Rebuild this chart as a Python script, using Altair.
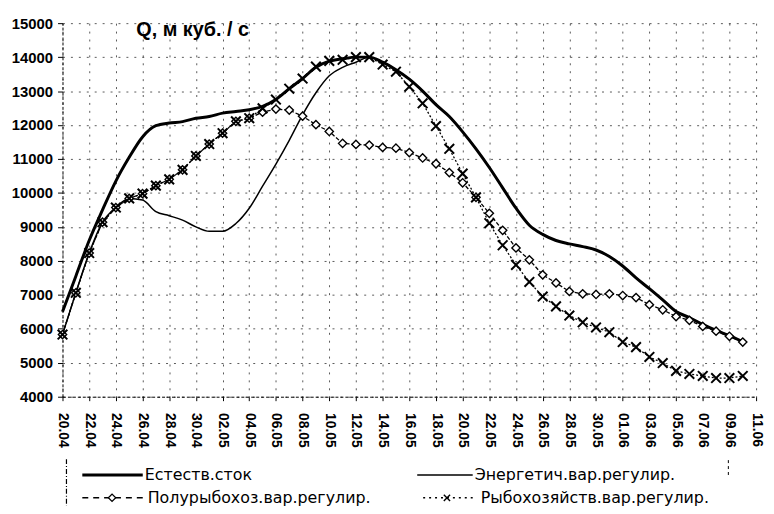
import json
import altair as alt
import pandas as pd

# ---------------- data ----------------
tick_labels = ["20.04", "22.04", "24.04", "26.04", "28.04", "30.04", "02.05", "04.05",
               "06.05", "08.05", "10.05", "12.05", "14.05", "16.05", "18.05", "20.05",
               "22.05", "24.05", "26.05", "28.05", "30.05", "01.06", "03.06", "05.06",
               "07.06", "09.06", "11.06"]

series_names = ["Естеств.сток", "Энергетич.вар.регулир.",
                "Полурыбохоз.вар.регулир.", "Рыбохозяйств.вар.регулир."]

# daily values, 20.04 ... 10.06
natural = [6500, 7550, 8600, 9500, 10350, 11050, 11650, 11980, 12060, 12100,
           12200, 12250, 12350, 12400, 12450, 12550, 12750, 13070, 13370, 13700,
           13880, 13950, 14000, 14000, 13850, 13630, 13350, 13000, 12600, 12250,
           11800, 11300, 10750, 10150, 9550, 9050, 8780, 8600, 8500, 8420,
           8320, 8130, 7850, 7500, 7180, 6850, 6510, 6330, 6130, 5950,
           5800, 5620]

energy = [5830, 7060, 8230, 9140, 9570, 9840, 9790, 9450, 9330, 9200,
          9000, 8870, 8870, 9100, 9550, 10200, 10850, 11550, 12300, 12950,
          13450, 13700, 13850, 14000, 13850, 13630, 13350, 13000, 12600, 12250,
          11800, 11300, 10750, 10150, 9550, 9050, 8780, 8600, 8500, 8420,
          8320, 8130, 7850, 7500, 7180, 6850, 6510, 6330, 6130, 5950,
          5800, 5620]

semi = [5830, 7060, 8230, 9140, 9570, 9840, 9980, 10215, 10400, 10680,
        11090, 11440, 11760, 12110, 12200, 12380, 12470, 12440, 12260, 12010,
        11810, 11460, 11430, 11410, 11340, 11320, 11190, 11030, 10860, 10600,
        10300, 9870, 9400, 8900, 8380, 8030, 7590, 7350, 7100, 7030,
        7010, 7030, 6980, 6920, 6710, 6560, 6360, 6250, 6070, 5930,
        5780, 5610]

fish = [5830, 7060, 8230, 9140, 9570, 9840, 9980, 10215, 10400, 10680,
        11090, 11440, 11760, 12110, 12200, 12490, 12750, 13070, 13370, 13720,
        13890, 13920, 14000, 14000, 13780, 13570, 13130, 12640, 11970, 11300,
        10570, 9870, 9110, 8460, 7880, 7380, 6950, 6660, 6390, 6190,
        6040, 5900, 5610, 5460, 5170, 4990, 4760, 4670, 4610, 4550,
        4550, 4610]

days = list(range(len(natural)))  # day index counted from 20.04

rows = []
for name, vals in zip(series_names, [natural, energy, semi, fish]):
    for d, v in zip(days, vals):
        rows.append({"day": d, "value": v, "series": name})
df = pd.DataFrame(rows)
leg_df = pd.DataFrame({"series": series_names})

# ---------------- encodings ----------------
label_expr = json.dumps(tick_labels) + "[round(datum.value / 2)]"
X_PATH = "M-1,-1L1,1M-1,1L1,-1"

x_enc = alt.X(
    "day:Q",
    scale=alt.Scale(domain=[0, 52], nice=False, zero=False),
    axis=alt.Axis(values=list(range(0, 53, 2)), labelExpr=label_expr, labelAngle=90,
                  labelAlign="left", labelBaseline="middle", labelOverlap=False,
                  title=None, labelFont="Liberation Sans", labelFontSize=14,
                  labelFontWeight="bold", labelPadding=12, tickSize=4),
)
y_enc = alt.Y(
    "value:Q",
    scale=alt.Scale(domain=[4000, 15000], nice=False, zero=False),
    axis=alt.Axis(values=list(range(4000, 15001, 1000)), format="d",
                  title="Q, м куб. / с", titleAngle=0, titleX=74, titleY=6,
                  titleAlign="left", titleBaseline="middle",
                  titleFont="Liberation Sans", titleFontSize=20, titleFontWeight="bold",
                  titleColor="black", labelFont="Liberation Sans", labelFontSize=15,
                  labelFontWeight="bold", labelPadding=5, tickSize=5),
)

base = alt.Chart(df).encode(x=x_enc, y=y_enc)


def only(chart, i):
    return chart.transform_filter(alt.datum.series == series_names[i])


natural_line = only(base, 0).mark_line(color="black", strokeWidth=3, interpolate="monotone")
energy_line = only(base, 1).mark_line(color="black", strokeWidth=1.5, interpolate="monotone")
semi_line = only(base, 2).mark_line(color="black", strokeWidth=1.3, strokeDash=[4, 2])
fish_line = only(base, 3).mark_line(color="black", strokeWidth=1.3, strokeDash=[2, 2])
semi_pts = only(base, 2).mark_point(shape="diamond", size=70, filled=True, fill="white",
                                    stroke="black", strokeWidth=1.4, opacity=1)
fish_pts = only(base, 3).mark_point(shape=X_PATH, size=95, stroke="black",
                                    strokeWidth=2, opacity=1)

# ---------------- legend (drawn below the plot) ----------------
lg = alt.Chart(leg_df)
R1, R2 = 456, 479


def leg_text(i, x, y):
    return only(lg, i).mark_text(align="left", baseline="middle", font="DejaVu Sans",
                                 fontSize=16, color="black").encode(
        x=alt.value(x), y=alt.value(y), text="series:N")


def leg_rule(i, x1, x2, y, **kw):
    return only(lg, i).mark_rule(color="black", **kw).encode(
        x=alt.value(x1), x2=alt.value(x2), y=alt.value(y))


legend_layers = [
    leg_rule(0, 20, 81, R1, strokeWidth=3),
    leg_text(0, 83, R1),
    leg_rule(1, 358, 414, R1, strokeWidth=1.5),
    leg_text(1, 416, R1),
    leg_rule(2, 20, 83, R2, strokeWidth=1.4, strokeDash=[6, 5]),
    only(lg, 2).mark_point(shape="diamond", size=55, filled=True, fill="white",
                           stroke="black", strokeWidth=1.3, opacity=1).encode(
        x=alt.value(50), y=alt.value(R2)),
    leg_text(2, 86, R2),
    leg_rule(3, 364, 416, R2, strokeWidth=1.4, strokeDash=[2, 4]),
    only(lg, 3).mark_point(shape=X_PATH, size=40, stroke="black", strokeWidth=1.4,
                           opacity=1).encode(x=alt.value(388), y=alt.value(R2)),
    leg_text(3, 422, R2),
    only(lg, 0).mark_rule(color="black", strokeWidth=1.2, strokeDash=[5, 2, 1, 2]).encode(
        x=alt.value(4), y=alt.value(440), y2=alt.value(495)),
    only(lg, 0).mark_rule(color="black", strokeWidth=1, strokeDash=[3, 3]).encode(
        x=alt.value(672), y=alt.value(441), y2=alt.value(457)),
]

chart = alt.layer(
    natural_line, energy_line, semi_line, fish_line, semi_pts, fish_pts, *legend_layers
).properties(
    width=700, height=377,
    autosize=alt.AutoSizeParams(type="none"),
    padding={"left": 55, "top": 13, "right": 10, "bottom": 108},
    background="white",
).configure_axis(
    grid=True, gridColor="black", gridDash=[2, 6], gridWidth=1, gridOpacity=0.65,
    domainColor="black", domainDash=[3, 2], domainWidth=1,
    tickColor="black", labelColor="black",
).configure_view(stroke=None)

chart.save("out.html", embed_options={"renderer": "svg", "actions": False})
